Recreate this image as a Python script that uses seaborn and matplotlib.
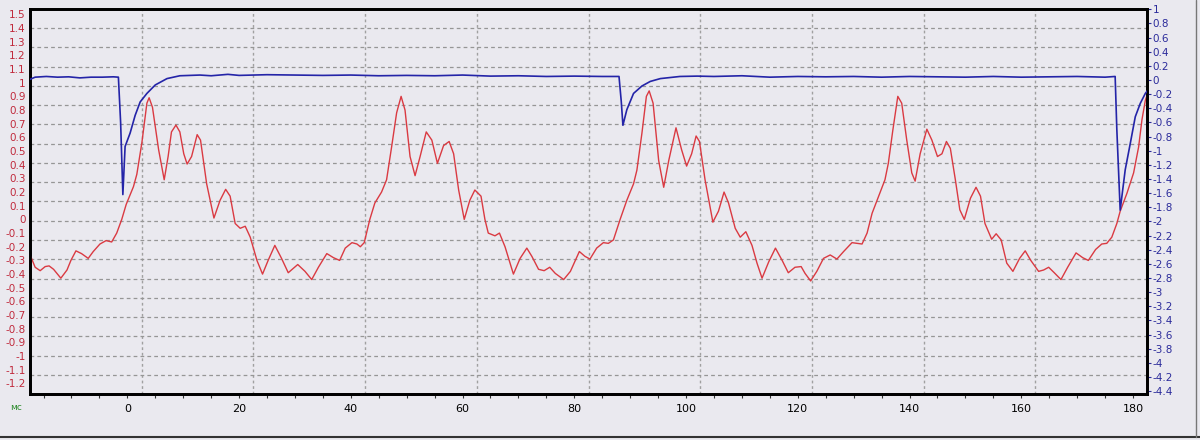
import numpy as np
import pandas as pd
import seaborn as sns
import matplotlib.pyplot as plt
from matplotlib.ticker import FixedLocator, MultipleLocator, FuncFormatter
from matplotlib.lines import Line2D

# red trace (left axis)
red_time = [-17.3, -16.5, -15.6, -14.7, -14.0, -13.2, -11.9, -10.8, -10.1, -9.2,
            -8.2, -7.0, -6.1, -4.9, -3.8, -2.8, -1.9, -1.0, -0.2, 0.5,
            1.1, 1.7, 2.6, 3.5, 3.9, 4.5, 5.6, 6.6, 7.3, 7.9,
            8.7, 9.4, 10.1, 10.7, 11.5, 12.5, 13.1, 14.2, 15.5, 16.6,
            17.6, 18.4, 19.3, 20.2, 21.1, 22.0, 23.2, 24.2, 25.2, 26.4,
            27.6, 28.8, 30.5, 31.8, 33.0, 34.2, 35.7, 36.9, 38.0, 39.0,
            40.2, 41.1, 41.7, 42.4, 43.4, 44.3, 45.5, 46.4, 47.3, 48.2,
            49.0, 49.7, 50.6, 51.5, 52.4, 53.5, 54.5, 55.5, 56.6, 57.6,
            58.4, 59.3, 60.3, 61.3, 62.2, 63.3, 64.0, 64.6, 65.8, 66.6,
            67.6, 69.1, 70.3, 71.5, 72.4, 73.6, 74.6, 75.6, 76.6, 78.1,
            79.3, 80.9, 81.9, 82.8, 84.0, 85.2, 86.1, 87.0, 88.2, 89.4,
            90.6, 91.2, 92.1, 92.9, 93.4, 94.1, 95.1, 96.0, 96.9, 98.2,
            99.2, 100.1, 101.0, 101.8, 102.4, 103.4, 104.8, 105.8, 106.8, 107.6,
            108.8, 109.7, 110.7, 111.8, 112.7, 113.6, 114.8, 116.0, 117.2, 118.3,
            119.5, 120.6, 121.3, 122.3, 123.4, 124.6, 125.8, 127.0, 128.2, 129.7,
            131.5, 132.4, 133.3, 134.2, 135.6, 136.2, 137.0, 137.9, 138.6, 139.5,
            140.4, 141.0, 141.9, 143.1, 144.0, 145.0, 145.8, 146.6, 147.3, 148.2,
            149.0, 149.8, 150.9, 151.9, 152.7, 153.5, 154.7, 155.5, 156.4, 157.4,
            158.5, 159.7, 160.7, 161.7, 163.1, 164.0, 164.9, 165.9, 167.1, 168.3,
            169.8, 171.0, 172.0, 173.3, 174.4, 175.3, 176.2, 177.1, 177.7, 178.9,
            180.1, 181.0, 181.6, 182.2, 182.6]
red_value = [-0.27, -0.35, -0.375, -0.345, -0.34, -0.365, -0.43, -0.37, -0.30, -0.23,
             -0.25, -0.285, -0.235, -0.18, -0.155, -0.165, -0.10, 0.0, 0.11, 0.18,
             0.24, 0.33, 0.56, 0.85, 0.89, 0.82, 0.51, 0.29, 0.46, 0.64,
             0.69, 0.64, 0.48, 0.405, 0.46, 0.62, 0.58, 0.26, 0.01, 0.14,
             0.22, 0.17, -0.03, -0.065, -0.05, -0.13, -0.30, -0.40, -0.30, -0.19,
             -0.285, -0.39, -0.33, -0.38, -0.44, -0.35, -0.25, -0.28, -0.30, -0.21,
             -0.17, -0.18, -0.20, -0.17, 0.0, 0.12, 0.20, 0.29, 0.53, 0.78,
             0.90, 0.80, 0.46, 0.32, 0.46, 0.64, 0.58, 0.41, 0.54, 0.57,
             0.48, 0.215, 0.0, 0.14, 0.215, 0.17, 0.0, -0.10, -0.12, -0.10,
             -0.20, -0.40, -0.285, -0.21, -0.27, -0.365, -0.375, -0.35, -0.395, -0.44,
             -0.38, -0.235, -0.27, -0.29, -0.21, -0.17, -0.175, -0.15, 0.0, 0.14,
             0.26, 0.36, 0.63, 0.90, 0.94, 0.85, 0.43, 0.235, 0.43, 0.67,
             0.51, 0.39, 0.48, 0.61, 0.57, 0.29, -0.02, 0.06, 0.20, 0.12,
             -0.065, -0.13, -0.09, -0.19, -0.32, -0.43, -0.31, -0.21, -0.30, -0.39,
             -0.35, -0.345, -0.395, -0.45, -0.38, -0.285, -0.26, -0.29, -0.235, -0.17,
             -0.18, -0.10, 0.045, 0.14, 0.29, 0.41, 0.65, 0.90, 0.85, 0.58,
             0.34, 0.28, 0.48, 0.66, 0.58, 0.46, 0.48, 0.57, 0.52, 0.29,
             0.07, 0.0, 0.155, 0.235, 0.17, -0.03, -0.145, -0.105, -0.15, -0.32,
             -0.38, -0.285, -0.23, -0.30, -0.38, -0.37, -0.35, -0.39, -0.44, -0.35,
             -0.245, -0.28, -0.30, -0.22, -0.18, -0.175, -0.13, -0.03, 0.06, 0.19,
             0.34, 0.53, 0.73, 0.87, 0.92]

# blue trace (right axis)
blue_time = [-17.4, -16.5, -14.5, -12.5, -10.5, -8.5, -6.5, -4.5, -2.5, -1.6,
             -1.2, -0.8, -0.4, 0.5, 1.4, 2.3, 3.5, 5.0, 7.1, 9.4,
             13.0, 15.0, 18.0, 20.0, 25.0, 30.0, 35.0, 40.0, 45.0, 50.0,
             55.0, 60.0, 65.0, 70.0, 75.0, 80.0, 85.0, 88.0, 88.4, 88.7,
             89.4, 90.6, 92.1, 93.6, 95.4, 98.9, 102.0, 105.0, 110.0, 115.0,
             120.0, 125.0, 130.0, 135.0, 140.0, 145.0, 150.0, 155.0, 160.0, 165.0,
             170.0, 175.0, 176.8, 177.1, 177.7, 178.6, 179.5, 180.4, 181.3, 182.2,
             182.6]
blue_value = [0.01, 0.04, 0.05, 0.04, 0.045, 0.03, 0.04, 0.04, 0.045, 0.04,
              -0.6, -1.62, -0.94, -0.75, -0.50, -0.31, -0.19, -0.07, 0.02, 0.06,
              0.07, 0.06, 0.08, 0.065, 0.075, 0.07, 0.065, 0.07, 0.06, 0.065,
              0.06, 0.07, 0.055, 0.06, 0.05, 0.055, 0.05, 0.05, -0.3, -0.64,
              -0.42, -0.19, -0.085, -0.02, 0.02, 0.05, 0.055, 0.05, 0.06, 0.04,
              0.05, 0.045, 0.05, 0.04, 0.05, 0.045, 0.04, 0.05, 0.04, 0.045,
              0.05, 0.04, 0.05, -0.7, -1.84, -1.27, -0.90, -0.52, -0.33, -0.19,
              -0.15]

x_ticks = [0, 20, 40, 60, 80, 100, 120, 140, 160, 180]
left_ticks = [-1.2, -1.1, -1.0, -0.9, -0.8, -0.7, -0.6, -0.5, -0.4, -0.3, -0.2, -0.1,
              0.0, 0.1, 0.2, 0.3, 0.4, 0.5, 0.6, 0.7, 0.8, 0.9, 1.0, 1.1, 1.2, 1.3, 1.4, 1.5]
right_ticks = [-4.4, -4.2, -4.0, -3.8, -3.6, -3.4, -3.2, -3.0, -2.8, -2.6, -2.4, -2.2,
               -2.0, -1.8, -1.6, -1.4, -1.2, -1.0, -0.8, -0.6, -0.4, -0.2,
               0.0, 0.2, 0.4, 0.6, 0.8, 1.0]

BG = '#EAE9EF'
RED = '#DA3A42'
BLUE = '#2424A8'


def fmt(v, pos=None):
    return '%g' % round(v, 2)


def draw_grid(ax, xlim, ylim):
    """Dashed grid: 10 x 20 equal cells, not tied to tick positions"""
    for i in range(1, 10):
        x = xlim[0] + i * (xlim[1] - xlim[0]) / 10
        ax.axvline(x, color='#A0A0A0', lw=1.0, ls=(0, (2, 2)), zorder=0)
    for i in range(1, 20):
        y = ylim[0] + i * (ylim[1] - ylim[0]) / 20
        ax.axhline(y, color='#969696', lw=0.9, ls=(0, (3, 2.5)), zorder=0)


def main():
    sns.set_style('white')
    plt.rcParams['font.family'] = ['DejaVu Sans']

    red_df = pd.DataFrame({'t': red_time, 'v': red_value})
    blue_df = pd.DataFrame({'t': blue_time, 'v': blue_value})

    fig = plt.figure(figsize=(12, 4.4), dpi=100, facecolor=BG)
    ax = fig.add_axes([30 / 1200, 46 / 440, 1117 / 1200, 385 / 440])
    ax.set_facecolor(BG)

    xlim = (-17.42, 182.5)
    ylim = (-1.277, 1.539)
    draw_grid(ax, xlim, ylim)

    sns.lineplot(data=red_df, x='t', y='v', ax=ax, color=RED, lw=1.0,
                 sort=False, estimator=None, zorder=3)
    ax.set_xlim(*xlim)
    ax.set_ylim(*ylim)

    ax2 = ax.twinx()
    sns.lineplot(data=blue_df, x='t', y='v', ax=ax2, color=BLUE, lw=1.2,
                 sort=False, estimator=None, zorder=3)
    ax2.set_ylim(-4.44, 1.004)
    ax2.set_xlim(*xlim)

    # ticks / labels
    ax.xaxis.set_major_locator(FixedLocator(x_ticks))
    ax.xaxis.set_minor_locator(MultipleLocator(5))
    ax.xaxis.set_major_formatter(FuncFormatter(fmt))
    ax.tick_params(axis='x', which='both', direction='out', length=3, width=0.8,
                   color='#333333', labelsize=8, pad=4.5, labelcolor='black', bottom=True)
    ax.yaxis.set_major_locator(FixedLocator(left_ticks))
    ax.yaxis.set_major_formatter(FuncFormatter(fmt))
    ax.tick_params(axis='y', length=0, pad=3, labelsize=7.5, labelcolor='#C02A3C')

    ax2.yaxis.set_major_locator(FixedLocator(right_ticks))
    ax2.yaxis.set_major_formatter(FuncFormatter(fmt))
    ax2.tick_params(axis='y', direction='out', length=3, width=0.8, color='#2B2B9B',
                    pad=1, labelsize=7.5, labelcolor='#2B2B9B', right=True)

    for a in (ax, ax2):
        a.set_xlabel('')
        a.set_ylabel('')
        for s in a.spines.values():
            s.set_color('black')
            s.set_linewidth(2)

    fig.text(10 / 1200, 1 - 407 / 440, 'мс', color='#2E8B2E', fontsize=6.5,
             ha='left', va='center')

    # window frame at bottom / right
    fig.add_artist(Line2D([0, 1], [3.5 / 440, 3.5 / 440], color='#333333', lw=1.5,
                          transform=fig.transFigure))
    fig.add_artist(Line2D([1195.5 / 1200, 1195.5 / 1200], [3.5 / 440, 1], color='#777777',
                          lw=1.0, transform=fig.transFigure))

    fig.savefig('out.png', dpi=100, facecolor=BG)
    plt.close(fig)


if __name__ == "__main__":
    main()
